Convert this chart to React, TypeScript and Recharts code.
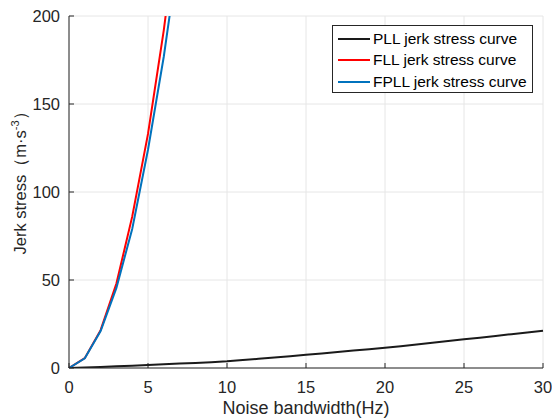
import React from "react";
import { LineChart, Line, XAxis, YAxis, CartesianGrid, Legend, Label } from "recharts";

const FONT = '"Liberation Sans", Arial, Helvetica, sans-serif';
const AXIS = "#262626";

// noise bandwidth (Hz)
const freq = [0, 1, 2, 3, 4, 5, 6, 7, 8, 9, 10, 11, 12, 13, 14, 15, 16, 17, 18, 19, 20, 21, 22, 23, 24, 25, 26, 27, 28, 29, 30];
// jerk stress per loop type (m·s^-3)
const pll = [0, 0.3, 0.6, 1.0, 1.3, 1.7, 2.1, 2.5, 2.9, 3.3, 3.8, 4.5, 5.2, 5.9, 6.7, 7.5, 8.3, 9.1, 9.9, 10.7, 11.5, 12.4, 13.3, 14.3, 15.3, 16.3, 17.2, 18.2, 19.2, 20.2, 21.2];
const fll = [0, 5.6, 21.5, 48, 86, 133, 192, 262];
const fpll = [0, 5.5, 21, 45.5, 79, 124, 177, 240];

const seriesNames = ["PLL jerk stress curve", "FLL jerk stress curve", "FPLL jerk stress curve"];
const xTicks = [0, 5, 10, 15, 20, 25, 30];
const yTicks = [0, 50, 100, 150, 200];

const data = freq.map((f, i) => ({
  f,
  pll: pll[i],
  fll: i < fll.length ? fll[i] : undefined,
  fpll: i < fpll.length ? fpll[i] : undefined,
}));

const tickStyle = { fontSize: 16.5, fill: AXIS, fontFamily: FONT };

function LegendBox({ payload }: any) {
  const items = [...(payload || [])].sort((a: any, b: any) => seriesNames.indexOf(a.value) - seriesNames.indexOf(b.value));
  return (
    <div style={{ width: 201, height: 68, border: "1px solid " + AXIS, background: "#fff", boxSizing: "border-box", paddingTop: 2, fontFamily: FONT }}>
      {items.map((e: any) => (
        <div key={e.value} style={{ display: "flex", alignItems: "center", height: 21.5 }}>
          <span style={{ display: "inline-block", width: 32, height: 2, background: e.color, marginLeft: 5, marginRight: 3 }} />
          <span style={{ fontSize: 15.5, color: "#000", whiteSpace: "nowrap", lineHeight: "18px" }}>{e.value}</span>
        </div>
      ))}
    </div>
  );
}

function YTitle({ viewBox }: any) {
  const cx = viewBox.x + 26;
  const cy = viewBox.y + viewBox.height / 2 - 13;
  return (
    <text x={cx} y={cy} transform={`rotate(-90 ${cx} ${cy})`} textAnchor="middle" fontSize={16.5} fill={AXIS} fontFamily={FONT}>
      Jerk stress（m·s<tspan dy={-7} fontSize={11}>-3</tspan><tspan dy={7}>）</tspan>
    </text>
  );
}

function XTitle({ viewBox }: any) {
  const cx = viewBox.x + viewBox.width / 2;
  const cy = viewBox.y + 46;
  return (
    <text x={cx} y={cy} textAnchor="middle" fontSize={18} fill={AXIS} fontFamily={FONT}>
      Noise bandwidth(Hz)
    </text>
  );
}

export default function App() {
  return (
    <div style={{ position: "absolute", left: 0, top: 0, background: "#fff" }}>
      <LineChart width={552} height={420} data={data} margin={{ top: 16, right: 9, bottom: 0, left: 0 }} style={{ fontFamily: FONT }}>
        <CartesianGrid stroke="#e6e6e6" />
        <XAxis dataKey="f" type="number" domain={[0, 30]} ticks={xTicks} interval={0} tickSize={-5} tickMargin={18} height={52} stroke={AXIS} tick={tickStyle}>
          <Label content={<XTitle />} />
        </XAxis>
        <XAxis xAxisId="top" orientation="top" dataKey="f" type="number" domain={[0, 30]} ticks={xTicks} interval={0} tickSize={-5} height={0} stroke={AXIS} tick={false} />
        <YAxis type="number" domain={[0, 200]} allowDataOverflow ticks={yTicks} interval={0} tickSize={-5} tickMargin={14} width={69} stroke={AXIS} tick={tickStyle}>
          <Label content={<YTitle />} />
        </YAxis>
        <YAxis yAxisId="right" orientation="right" type="number" domain={[0, 200]} ticks={yTicks} interval={0} tickSize={-5} width={0} stroke={AXIS} tick={false} />
        <Legend layout="vertical" align="center" verticalAlign="middle" content={<LegendBox />} wrapperStyle={{ top: 25, left: 332, right: "auto", bottom: "auto", width: 201 }} />
        <Line dataKey="pll" name={seriesNames[0]} stroke="#1a1a1a" strokeWidth={2} dot={false} activeDot={false} isAnimationActive={false} />
        <Line dataKey="fll" name={seriesNames[1]} stroke="#ff0000" strokeWidth={2} dot={false} activeDot={false} isAnimationActive={false} />
        <Line dataKey="fpll" name={seriesNames[2]} stroke="#0072bd" strokeWidth={2} dot={false} activeDot={false} isAnimationActive={false} />
      </LineChart>
    </div>
  );
}
